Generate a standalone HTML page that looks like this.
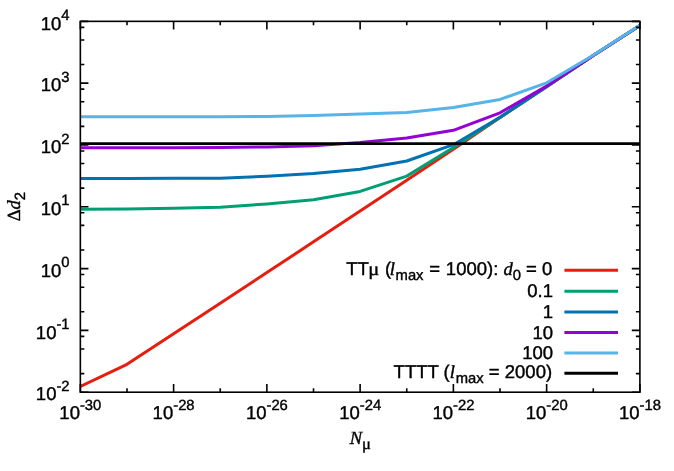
<!DOCTYPE html>
<html><head><meta charset="utf-8"><title>plot</title>
<style>html,body{margin:0;padding:0;background:#fff;}svg{display:block;will-change:transform;}text{font-family:"Liberation Sans",sans-serif;fill:#000;stroke:#000;stroke-width:0.4px;text-rendering:geometricPrecision;}.s{font-family:"Liberation Serif",serif;font-style:italic;}.sy{font-family:"Liberation Serif",serif;}</style>
</head><body>
<svg width="674" height="471" viewBox="0 0 674 471">
<rect x="0" y="0" width="674" height="471" fill="#fff"/>
<clipPath id="c"><rect x="80.35" y="21.35" width="559.55" height="370.84999999999997"/></clipPath>
<g clip-path="url(#c)" fill="none" stroke-linejoin="round" stroke-linecap="butt">
<polyline points="80.35,386.50 126.98,364.30 173.61,333.80 220.24,303.20 266.87,272.60 313.50,241.85 360.12,211.10 406.75,180.15 453.38,149.20 500.01,117.60 546.64,86.70 593.27,55.60 639.90,25.50" stroke="#e51e10" stroke-width="3.0"/>
<polyline points="80.35,209.20 126.98,209.00 173.61,208.30 220.24,207.20 266.87,203.90 313.50,199.80 360.12,191.40 406.75,176.10 453.38,147.60 500.01,117.50 546.64,86.70 593.27,55.60 639.90,25.50" stroke="#009e73" stroke-width="3.0"/>
<polyline points="80.35,178.40 126.98,178.40 173.61,178.30 220.24,178.20 266.87,176.20 313.50,173.40 360.12,169.20 406.75,161.00 453.38,144.70 500.01,117.30 546.64,86.60 593.27,55.55 639.90,25.45" stroke="#0072b2" stroke-width="3.0"/>
<polyline points="80.35,147.70 126.98,147.70 173.61,147.70 220.24,147.60 266.87,146.90 313.50,145.80 360.12,142.50 406.75,138.10 453.38,130.30 500.01,112.80 546.64,86.10 593.27,55.50 639.90,25.40" stroke="#9400d3" stroke-width="3.0"/>
<polyline points="80.35,116.80 126.98,116.80 173.61,116.80 220.24,116.80 266.87,116.40 313.50,115.60 360.12,114.00 406.75,112.40 453.38,107.60 500.01,99.40 546.64,82.80 593.27,55.20 639.90,25.30" stroke="#56b4e9" stroke-width="3.0"/>
<path d="M80.35 143.7H639.9" stroke="#000" stroke-width="2.8"/>
</g>
<path d="M80.35 392.20v-8.1M80.35 21.35v8.1M126.98 392.20v-4.0M126.98 21.35v4.0M173.61 392.20v-8.1M173.61 21.35v8.1M220.24 392.20v-4.0M220.24 21.35v4.0M266.87 392.20v-8.1M266.87 21.35v8.1M313.50 392.20v-4.0M313.50 21.35v4.0M360.12 392.20v-8.1M360.12 21.35v8.1M406.75 392.20v-4.0M406.75 21.35v4.0M453.38 392.20v-8.1M453.38 21.35v8.1M500.01 392.20v-4.0M500.01 21.35v4.0M546.64 392.20v-8.1M546.64 21.35v8.1M593.27 392.20v-4.0M593.27 21.35v4.0M639.90 392.20v-8.1M639.90 21.35v8.1M80.35 392.20h8.1M639.90 392.20h-8.1M80.35 330.39h8.1M639.90 330.39h-8.1M80.35 373.59h4.0M639.90 373.59h-4.0M80.35 349.00h4.0M639.90 349.00h-4.0M80.35 336.38h4.0M639.90 336.38h-4.0M80.35 268.58h8.1M639.90 268.58h-8.1M80.35 311.79h4.0M639.90 311.79h-4.0M80.35 287.19h4.0M639.90 287.19h-4.0M80.35 274.57h4.0M639.90 274.57h-4.0M80.35 206.77h8.1M639.90 206.77h-8.1M80.35 249.98h4.0M639.90 249.98h-4.0M80.35 225.38h4.0M639.90 225.38h-4.0M80.35 212.76h4.0M639.90 212.76h-4.0M80.35 144.97h8.1M639.90 144.97h-8.1M80.35 188.17h4.0M639.90 188.17h-4.0M80.35 163.57h4.0M639.90 163.57h-4.0M80.35 150.96h4.0M639.90 150.96h-4.0M80.35 83.16h8.1M639.90 83.16h-8.1M80.35 126.36h4.0M639.90 126.36h-4.0M80.35 101.76h4.0M639.90 101.76h-4.0M80.35 89.15h4.0M639.90 89.15h-4.0M80.35 21.35h8.1M639.90 21.35h-8.1M80.35 64.55h4.0M639.90 64.55h-4.0M80.35 39.96h4.0M639.90 39.96h-4.0M80.35 27.34h4.0M639.90 27.34h-4.0" stroke="#000" stroke-width="1.6" fill="none"/>
<rect x="80.35" y="21.35" width="559.55" height="370.85" fill="none" stroke="#000" stroke-width="1.6"/>
<path d="M564.4 270.3H618" stroke="#e51e10" stroke-width="3.0" fill="none"/>
<path d="M564.4 291.3H618" stroke="#009e73" stroke-width="3.0" fill="none"/>
<path d="M564.4 312.0H618" stroke="#0072b2" stroke-width="3.0" fill="none"/>
<path d="M564.4 332.4H618" stroke="#9400d3" stroke-width="3.0" fill="none"/>
<path d="M564.4 353.0H618" stroke="#56b4e9" stroke-width="3.0" fill="none"/>
<path d="M564.4 373.35H618" stroke="#000000" stroke-width="3.0" fill="none"/>
<g transform="translate(69.6 400.4)"><text x="0" y="0" text-anchor="end" font-size="18.5" >10<tspan font-size="14.8" dy="-9.5">-2</tspan></text></g>
<g transform="translate(69.6 338.59166666666664)"><text x="0" y="0" text-anchor="end" font-size="18.5" >10<tspan font-size="14.8" dy="-9.5">-1</tspan></text></g>
<g transform="translate(69.6 276.7833333333333)"><text x="0" y="0" text-anchor="end" font-size="18.5" >10<tspan font-size="14.8" dy="-9.5">0</tspan></text></g>
<g transform="translate(69.6 214.97499999999997)"><text x="0" y="0" text-anchor="end" font-size="18.5" >10<tspan font-size="14.8" dy="-9.5">1</tspan></text></g>
<g transform="translate(69.6 153.16666666666666)"><text x="0" y="0" text-anchor="end" font-size="18.5" >10<tspan font-size="14.8" dy="-9.5">2</tspan></text></g>
<g transform="translate(69.6 91.35833333333333)"><text x="0" y="0" text-anchor="end" font-size="18.5" >10<tspan font-size="14.8" dy="-9.5">3</tspan></text></g>
<g transform="translate(69.6 29.950000000000003)"><text x="0" y="0" text-anchor="end" font-size="18.5" >10<tspan font-size="14.8" dy="-9.9">4</tspan></text></g>
<g transform="translate(80.35 418.7)"><text x="0" y="0" text-anchor="middle" font-size="18.5" >10<tspan font-size="14.8" dy="-8.8">-30</tspan></text></g>
<g transform="translate(173.60833333333332 418.7)"><text x="0" y="0" text-anchor="middle" font-size="18.5" >10<tspan font-size="14.8" dy="-8.8">-28</tspan></text></g>
<g transform="translate(266.8666666666667 418.7)"><text x="0" y="0" text-anchor="middle" font-size="18.5" >10<tspan font-size="14.8" dy="-8.8">-26</tspan></text></g>
<g transform="translate(360.125 418.7)"><text x="0" y="0" text-anchor="middle" font-size="18.5" >10<tspan font-size="14.8" dy="-8.8">-24</tspan></text></g>
<g transform="translate(453.3833333333333 418.7)"><text x="0" y="0" text-anchor="middle" font-size="18.5" >10<tspan font-size="14.8" dy="-8.8">-22</tspan></text></g>
<g transform="translate(546.6416666666667 418.7)"><text x="0" y="0" text-anchor="middle" font-size="18.5" >10<tspan font-size="14.8" dy="-8.8">-20</tspan></text></g>
<g transform="translate(639.9 418.7)"><text x="0" y="0" text-anchor="middle" font-size="18.5" >10<tspan font-size="14.8" dy="-8.8">-18</tspan></text></g>
<g transform="translate(346.3 274.9)"><text x="0" y="0" text-anchor="start" font-size="18.5" ><tspan>TT</tspan><tspan class="sy" dx="-0.6" textLength="11" lengthAdjust="spacingAndGlyphs">μ</tspan><tspan dx="0.6"> (</tspan><tspan class="s" dx="-1.4">l</tspan><tspan font-size="14.8" dy="5.3" dx="0.6">max</tspan><tspan dy="-5.3" dx="0.65"> = </tspan><tspan dx="0.6">1000</tspan><tspan dx="0">): </tspan><tspan class="s">d</tspan><tspan font-size="14.8" dy="5.3" dx="0">0</tspan><tspan dy="-5.3"> = 0</tspan></text></g>
<g transform="translate(553.0 297.4)"><text x="0" y="0" text-anchor="end" font-size="18.5" >0.1</text></g>
<g transform="translate(553.0 318.0)"><text x="0" y="0" text-anchor="end" font-size="18.5" >1</text></g>
<g transform="translate(553.0 338.6)"><text x="0" y="0" text-anchor="end" font-size="18.5" >10</text></g>
<g transform="translate(553.0 359.2)"><text x="0" y="0" text-anchor="end" font-size="18.5" >100</text></g>
<g transform="translate(393.6 378.0)"><text x="0" y="0" text-anchor="start" font-size="18.5" ><tspan>TTTT (</tspan><tspan class="s">l</tspan><tspan font-size="14.8" dy="5.3" dx="0.8">max</tspan><tspan dy="-5.3" dx="-0.1"> = </tspan><tspan dx="0.1">2000)</tspan></text></g>
<g transform="translate(360.3 443.5)"><text x="0" y="0" text-anchor="middle" font-size="18.5" ><tspan class="s">N</tspan><tspan class="sy" font-size="16.5" dy="5.7">μ</tspan></text></g>
<g transform="translate(20 206.6) rotate(-90) scale(1.0 1)"><text x="0" y="0" text-anchor="middle" font-size="18.5"><tspan class="sy">Δ</tspan><tspan class="s">d</tspan><tspan font-size="14.8" dy="5">2</tspan></text></g>
</svg></body></html>
